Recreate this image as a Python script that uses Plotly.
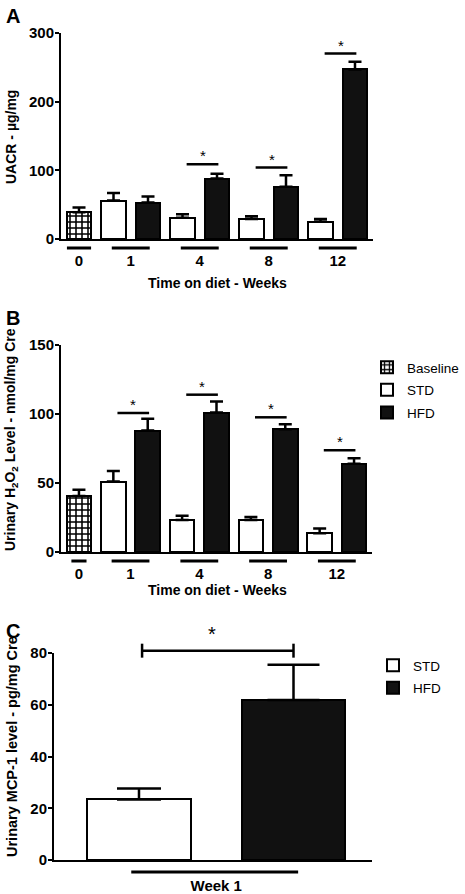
import plotly.graph_objects as go

# ---------------- data ----------------
weeks = ["1", "4", "8", "12"]
baseline_label = "0"

# Panel A: UACR (µg/mg)
uacr_baseline = [39]
uacr_baseline_err = [7]
uacr_std = [56, 31, 29, 25]
uacr_std_err = [11, 5, 4, 4]
uacr_hfd = [53, 88, 76, 247]
uacr_hfd_err = [9, 7, 17, 11]
uacr_sig = [None, 109, 104, 270]

# Panel B: urinary H2O2 (nmol/mg Cre)
h2o2_baseline = [40.6]
h2o2_baseline_err = [4.5]
h2o2_std = [51, 23.2, 23.2, 13.5]
h2o2_std_err = [7.7, 3.1, 2.2, 3.5]
h2o2_hfd = [88, 101, 89, 64]
h2o2_hfd_err = [8.6, 8, 3.5, 4]
h2o2_sig = [100.7, 114, 97.6, 73.7]

# Panel C: urinary MCP-1 (pg/mg Cre), week 1
mcp_groups = ["STD", "HFD"]
mcp_values = [23.4, 61.8]
mcp_err = [4.2, 13.7]
mcp_sig = 80.9
mcp_label = "Week 1"

a_ticks = [0, 100, 200, 300]
b_ticks = [0, 50, 100, 150]
c_ticks = [0, 20, 40, 60, 80]

# ---------------- layout helpers ----------------
W, H = 465, 894
BLACK = "black"
HFD_FILL = "#111111"
FONT = "Liberation Sans"

def px_x(p):
    return p / W

def px_y(p):
    return 1 - p / H

n = len(weeks)
base_x = [0]
std_x = [1 + 2 * i for i in range(n)]
hfd_x = [2 + 2 * i for i in range(n)]
grp_x = [1.5 + 2 * i for i in range(n)]
BAR_W = 0.72

fig = go.Figure()

def add_time_panel(xa, ya, base, base_err, std, std_err, hfd, hfd_err, legend, show):
    fig.add_trace(go.Bar(
        x=base_x, y=base, width=BAR_W, name="Baseline", xaxis=xa, yaxis=ya,
        marker=dict(color="white", line=dict(color=BLACK, width=2),
                    pattern=dict(shape="+", fgcolor=BLACK, bgcolor="white", size=6, solidity=0.45)),
        error_y=dict(type="data", array=base_err, arrayminus=[0] * len(base_err), symmetric=False,
                     color=BLACK, thickness=2.5, width=6.5),
        showlegend=show, legend=legend, legendgroup="base" + legend, cliponaxis=False,
    ))
    fig.add_trace(go.Bar(
        x=std_x, y=std, width=BAR_W, name="STD", xaxis=xa, yaxis=ya,
        marker=dict(color="white", line=dict(color=BLACK, width=2)),
        error_y=dict(type="data", array=std_err, arrayminus=[0] * n, symmetric=False,
                     color=BLACK, thickness=2.5, width=6.5),
        showlegend=show, legend=legend, legendgroup="std" + legend, cliponaxis=False,
    ))
    fig.add_trace(go.Bar(
        x=hfd_x, y=hfd, width=BAR_W, name="HFD", xaxis=xa, yaxis=ya,
        marker=dict(color=HFD_FILL, line=dict(color=BLACK, width=2)),
        error_y=dict(type="data", array=hfd_err, arrayminus=[0] * n, symmetric=False,
                     color=BLACK, thickness=2.5, width=6.5),
        showlegend=show, legend=legend, legendgroup="hfd" + legend, cliponaxis=False,
    ))

add_time_panel("x", "y", uacr_baseline, uacr_baseline_err, uacr_std, uacr_std_err,
               uacr_hfd, uacr_hfd_err, "legend", False)
add_time_panel("x2", "y2", h2o2_baseline, h2o2_baseline_err, h2o2_std, h2o2_std_err,
               h2o2_hfd, h2o2_hfd_err, "legend", True)

# Panel C bars
fig.add_trace(go.Bar(
    x=[0], y=[mcp_values[0]], width=0.67, name=mcp_groups[0], xaxis="x3", yaxis="y3",
    marker=dict(color="white", line=dict(color=BLACK, width=2)),
    error_y=dict(type="data", array=[mcp_err[0]], arrayminus=[0], symmetric=False,
                 color=BLACK, thickness=2.5, width=22),
    legend="legend2", legendgroup="cstd", cliponaxis=False,
))
fig.add_trace(go.Bar(
    x=[1], y=[mcp_values[1]], width=0.67, name=mcp_groups[1], xaxis="x3", yaxis="y3",
    marker=dict(color=HFD_FILL, line=dict(color=BLACK, width=2)),
    error_y=dict(type="data", array=[mcp_err[1]], arrayminus=[0], symmetric=False,
                 color=BLACK, thickness=2.5, width=26),
    legend="legend2", legendgroup="chfd", cliponaxis=False,
))

# ---------------- axes ----------------
tick_font = dict(family=FONT, size=15, color=BLACK, weight="bold")

def yaxis_cfg(domain, rng, ticks, anchor):
    return dict(domain=domain, range=rng, tickvals=ticks, anchor=anchor,
                showline=True, linecolor=BLACK, linewidth=2, ticks="outside",
                ticklen=4, tickwidth=2, tickcolor=BLACK, showgrid=False,
                zeroline=False, tickfont=tick_font, fixedrange=True, automargin=False,
                ticklabelstandoff=-2)

def xaxis_cfg(domain, rng, tickvals, ticktext, anchor, standoff):
    return dict(domain=domain, range=rng, tickvals=tickvals, ticktext=ticktext,
                anchor=anchor, showline=True, linecolor=BLACK, linewidth=2,
                ticks="", showgrid=False, zeroline=False, tickfont=tick_font,
                ticklabelstandoff=standoff, fixedrange=True, automargin=False)

a_dom_y = [px_y(239), px_y(33)]
b_dom_y = [px_y(552), px_y(345)]
c_dom_y = [px_y(860), px_y(653)]
slot_rng = [-0.522, 8.522]
c_rng = [-0.550, 1.508]

fig.update_layout(
    xaxis=xaxis_cfg([px_x(61), px_x(373)], slot_rng, base_x + grp_x,
                    [baseline_label] + weeks, "y", 7),
    yaxis=yaxis_cfg(a_dom_y, [0, 300], a_ticks, "x"),
    xaxis2=xaxis_cfg([px_x(61), px_x(372)], slot_rng, base_x + grp_x,
                     [baseline_label] + weeks, "y2", 7),
    yaxis2=yaxis_cfg(b_dom_y, [0, 150], b_ticks, "x2"),
    xaxis3=xaxis_cfg([px_x(54), px_x(372)], c_rng, [0.5], [mcp_label], "y3", 11),
    yaxis3=yaxis_cfg(c_dom_y, [0, 80], c_ticks, "x3"),
)

shapes = []
annotations = []

# group underlines below the x axes
def underlines(xref, yref, base_half, dy):
    shapes.append(dict(type="line", xref=xref, yref=yref, x0=-base_half, x1=base_half,
                       y0=dy, y1=dy, line=dict(color=BLACK, width=3)))
    for g in grp_x:
        shapes.append(dict(type="line", xref=xref, yref=yref, x0=g - 0.55, x1=g + 0.55,
                           y0=dy, y1=dy, line=dict(color=BLACK, width=3)))

underlines("x", "y domain", 0.35, -9 / 206)
underlines("x2", "y2 domain", 0.22, -9 / 207)
shapes.append(dict(type="line", xref="x3", yref="y3 domain", x0=-0.05, x1=1.03,
                   y0=-12 / 207, y1=-12 / 207, line=dict(color=BLACK, width=3)))

# significance lines and stars
def sig_marks(xref, yref, sig):
    for i, s in enumerate(sig):
        if s is None:
            continue
        x0, x1 = std_x[i] + 0.12, hfd_x[i] + 0.04
        shapes.append(dict(type="line", xref=xref, yref=yref, x0=x0, x1=x1, y0=s, y1=s,
                           line=dict(color=BLACK, width=2.5)))
        annotations.append(dict(xref=xref, yref=yref, x=(x0 + x1) / 2, y=s, text="*",
                                showarrow=False, yanchor="bottom", yshift=-2,
                                font=dict(family=FONT, size=15, color=BLACK)))

sig_marks("x", "y", uacr_sig)
sig_marks("x2", "y2", h2o2_sig)

# panel C bracket (drawn in axis-domain units so it can sit above the top tick)
def cx(v):
    return (v - c_rng[0]) / (c_rng[1] - c_rng[0])

def cy(v):
    return v / 80

c_tick = 2.7
bx0, bx1 = cx(0.02), cx(1.0)
shapes.append(dict(type="line", xref="x3 domain", yref="y3 domain", x0=bx0, x1=bx1,
                   y0=cy(mcp_sig), y1=cy(mcp_sig), line=dict(color=BLACK, width=2.5)))
for xe in (bx0, bx1):
    shapes.append(dict(type="line", xref="x3 domain", yref="y3 domain", x0=xe, x1=xe,
                       y0=cy(mcp_sig - c_tick), y1=cy(mcp_sig + c_tick),
                       line=dict(color=BLACK, width=2.5)))
annotations.append(dict(xref="x3 domain", yref="y3 domain", x=cx(0.47), y=cy(mcp_sig), text="*",
                        showarrow=False, yanchor="bottom", yshift=4,
                        font=dict(family=FONT, size=20, color=BLACK)))

# axis titles
title_font = dict(family=FONT, size=14, color=BLACK, weight="bold")
title_font_c = dict(family=FONT, size=14.5, color=BLACK, weight="bold")
annotations += [
    dict(xref="paper", yref="paper", x=px_x(11), y=px_y(137), text="UACR - µg/mg",
         textangle=-90, showarrow=False, font=title_font, xanchor="center", yanchor="middle"),
    dict(xref="paper", yref="paper", x=px_x(11), y=px_y(440),
         text="Urinary H<sub>2</sub>O<sub>2</sub> Level - nmol/mg Cre",
         textangle=-90, showarrow=False, font=title_font, xanchor="center", yanchor="middle"),
    dict(xref="paper", yref="paper", x=px_x(12), y=px_y(747),
         text="Urinary MCP-1 level - pg/mg Cre",
         textangle=-90, showarrow=False, font=title_font_c, xanchor="center", yanchor="middle"),
    dict(xref="paper", yref="paper", x=px_x(217), y=px_y(283), text="Time on diet - Weeks",
         showarrow=False, font=title_font, xanchor="center", yanchor="middle"),
    dict(xref="paper", yref="paper", x=px_x(217), y=px_y(590), text="Time on diet - Weeks",
         showarrow=False, font=title_font, xanchor="center", yanchor="middle"),
]

# panel letters
panel_font = dict(family=FONT, size=20, color=BLACK, weight="bold")
for letter, ly in (("A", 16), ("B", 318), ("C", 631)):
    annotations.append(dict(xref="paper", yref="paper", x=px_x(13), y=px_y(ly), text=letter,
                            showarrow=False, font=panel_font, xanchor="center", yanchor="middle"))

legend_font = dict(family=FONT, size=13.5, color=BLACK)
fig.update_layout(
    template="none",
    width=W, height=H, margin=dict(l=0, r=0, t=0, b=0, autoexpand=False),
    paper_bgcolor="white", plot_bgcolor="white",
    barmode="overlay", bargap=0,
    shapes=shapes, annotations=annotations,
    legend=dict(x=px_x(367), y=px_y(352), xanchor="left", yanchor="top", font=legend_font,
                bgcolor="rgba(0,0,0,0)", borderwidth=0, tracegroupgap=2, traceorder="grouped"),
    legend2=dict(x=px_x(373), y=px_y(650), xanchor="left", yanchor="top", font=legend_font,
                 bgcolor="rgba(0,0,0,0)", borderwidth=0, tracegroupgap=2, traceorder="grouped"),
    font=dict(family=FONT, color=BLACK),
    showlegend=True,
)

# the page's default body margin would shift the fixed-size figure; remove it
fig.write_html("out.html", config={"displayModeBar": False},
               post_script="document.body.style.margin = '0px';")
